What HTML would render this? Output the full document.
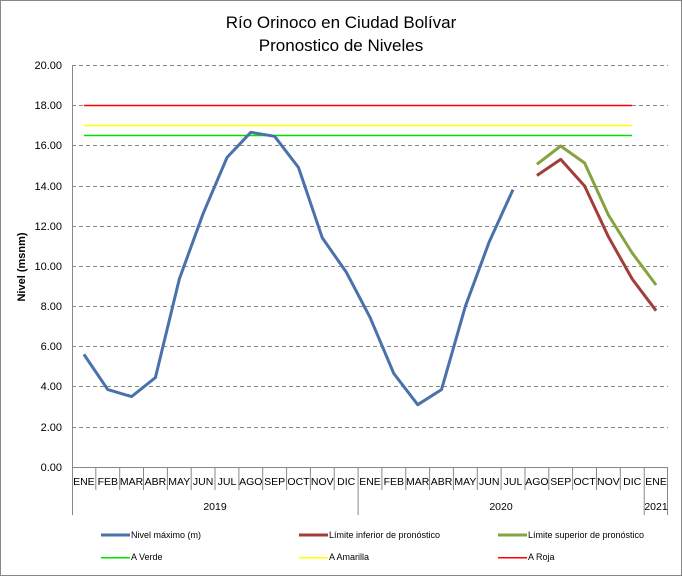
<!DOCTYPE html>
<html><head><meta charset="utf-8"><style>
html,body{margin:0;padding:0;background:#fff;}
svg{display:block;font-family:"Liberation Sans",sans-serif;}
</style></head><body>
<svg width="682" height="576" viewBox="0 0 682 576" xmlns="http://www.w3.org/2000/svg">
<rect x="0.5" y="0.5" width="681" height="575" fill="#fff" stroke="#888" stroke-width="1"/>
<text x="341" y="28" font-size="17" text-anchor="middle" fill="#000">Río Orinoco en Ciudad Bolívar</text>
<text x="341" y="51" font-size="17" text-anchor="middle" fill="#000">Pronostico de Niveles</text>
<g stroke="#888" stroke-dasharray="4,3" stroke-width="1">
<line x1="72" y1="65.5" x2="668" y2="65.5"/>
<line x1="72" y1="105.5" x2="668" y2="105.5"/>
<line x1="72" y1="145.5" x2="668" y2="145.5"/>
<line x1="72" y1="186.5" x2="668" y2="186.5"/>
<line x1="72" y1="226.5" x2="668" y2="226.5"/>
<line x1="72" y1="266.5" x2="668" y2="266.5"/>
<line x1="72" y1="306.5" x2="668" y2="306.5"/>
<line x1="72" y1="346.5" x2="668" y2="346.5"/>
<line x1="72" y1="386.5" x2="668" y2="386.5"/>
<line x1="72" y1="427.5" x2="668" y2="427.5"/>
</g>
<g font-size="11" text-anchor="end" fill="#000">
<text x="62" y="69">20.00</text><text x="62" y="109">18.00</text><text x="62" y="149">16.00</text>
<text x="62" y="190">14.00</text><text x="62" y="230">12.00</text><text x="62" y="270">10.00</text>
<text x="62" y="310">8.00</text><text x="62" y="350">6.00</text><text x="62" y="390">4.00</text>
<text x="62" y="431">2.00</text><text x="62" y="471">0.00</text>
</g>
<text transform="translate(25,267) rotate(-90)" font-size="11" font-weight="bold" text-anchor="middle">Nivel (msnm)</text>
<line x1="72.5" y1="65" x2="72.5" y2="515" stroke="#888"/>
<line x1="72" y1="467.5" x2="668" y2="467.5" stroke="#888"/>
<g stroke="#888">
<line x1="95.8" y1="467" x2="95.8" y2="490"/><line x1="119.7" y1="467" x2="119.7" y2="490"/><line x1="143.5" y1="467" x2="143.5" y2="490"/><line x1="167.4" y1="467" x2="167.4" y2="490"/><line x1="191.2" y1="467" x2="191.2" y2="490"/><line x1="215" y1="467" x2="215" y2="490"/><line x1="238.9" y1="467" x2="238.9" y2="490"/><line x1="262.7" y1="467" x2="262.7" y2="490"/><line x1="286.6" y1="467" x2="286.6" y2="490"/><line x1="310.4" y1="467" x2="310.4" y2="490"/><line x1="334.2" y1="467" x2="334.2" y2="490"/>
<line x1="358.1" y1="467" x2="358.1" y2="515"/>
<line x1="381.9" y1="467" x2="381.9" y2="490"/><line x1="405.8" y1="467" x2="405.8" y2="490"/><line x1="429.6" y1="467" x2="429.6" y2="490"/><line x1="453.4" y1="467" x2="453.4" y2="490"/><line x1="477.3" y1="467" x2="477.3" y2="490"/><line x1="501.1" y1="467" x2="501.1" y2="490"/><line x1="525" y1="467" x2="525" y2="490"/><line x1="548.8" y1="467" x2="548.8" y2="490"/><line x1="572.6" y1="467" x2="572.6" y2="490"/><line x1="596.5" y1="467" x2="596.5" y2="490"/><line x1="620.3" y1="467" x2="620.3" y2="490"/>
<line x1="644.2" y1="467" x2="644.2" y2="515"/>
<line x1="667.5" y1="467" x2="667.5" y2="515"/>
</g>
<g font-size="10.5" text-anchor="middle" fill="#000">
<text x="83.9" y="485">ENE</text><text x="107.8" y="485">FEB</text><text x="131.6" y="485">MAR</text><text x="155.4" y="485">ABR</text><text x="179.3" y="485">MAY</text><text x="203.1" y="485">JUN</text><text x="227" y="485">JUL</text><text x="250.8" y="485">AGO</text><text x="274.6" y="485">SEP</text><text x="298.5" y="485">OCT</text><text x="322.3" y="485">NOV</text><text x="346.2" y="485">DIC</text>
<text x="370" y="485">ENE</text><text x="393.8" y="485">FEB</text><text x="417.7" y="485">MAR</text><text x="441.5" y="485">ABR</text><text x="465.4" y="485">MAY</text><text x="489.2" y="485">JUN</text><text x="513" y="485">JUL</text><text x="536.9" y="485">AGO</text><text x="560.7" y="485">SEP</text><text x="584.6" y="485">OCT</text><text x="608.4" y="485">NOV</text><text x="632.2" y="485">DIC</text><text x="656.1" y="485">ENE</text>
<text x="215" y="510">2019</text><text x="501" y="510">2020</text><text x="656" y="510">2021</text>
</g>
<line x1="84" y1="105.5" x2="632" y2="105.5" stroke="#ff0000" stroke-width="1.5"/>
<line x1="84" y1="125.5" x2="632" y2="125.5" stroke="#ffff00" stroke-width="1.5"/>
<line x1="84" y1="135.5" x2="632" y2="135.5" stroke="#00e000" stroke-width="1.5"/>
<polyline fill="none" stroke="#4a72aa" stroke-width="3" stroke-linejoin="round" points="83.9,354.4 107.8,389.6 131.6,396.6 155.4,377.6 179.3,279.1 203.1,213.7 227,157.5 250.8,132.3 274.6,136.3 298.5,167.5 322.3,237.9 346.2,272 370,317.3 393.8,373.5 417.7,404.7 441.5,389.6 465.4,306.2 489.2,241.9 513,189.6"/>
<polyline fill="none" stroke="#a33d3a" stroke-width="3" stroke-linejoin="round" points="536.9,175.5 560.7,159.4 584.6,186 608.4,236.7 632.2,279 656.1,310.7"/>
<polyline fill="none" stroke="#86a33f" stroke-width="3" stroke-linejoin="round" points="536.9,164.3 560.7,146 584.6,163 608.4,215 632.2,253 656.1,285"/>
<g font-size="9" fill="#000">
<rect x="101" y="533.5" width="29" height="3" fill="#4a72aa"/><text x="131" y="538">Nivel máximo (m)</text>
<rect x="299" y="533.5" width="29" height="3" fill="#a33d3a"/><text x="329" y="538">Límite inferior de pronóstico</text>
<rect x="498" y="533.5" width="29" height="3" fill="#86a33f"/><text x="528" y="538">Límite superior de pronóstico</text>
<rect x="101" y="557" width="29" height="1.5" fill="#00e000"/><text x="131" y="560">A Verde</text>
<rect x="299" y="557" width="29" height="1.5" fill="#ffff00"/><text x="329" y="560">A Amarilla</text>
<rect x="498" y="557" width="29" height="1.5" fill="#ff0000"/><text x="528" y="560">A Roja</text>
</g>
</svg>
</body></html>
